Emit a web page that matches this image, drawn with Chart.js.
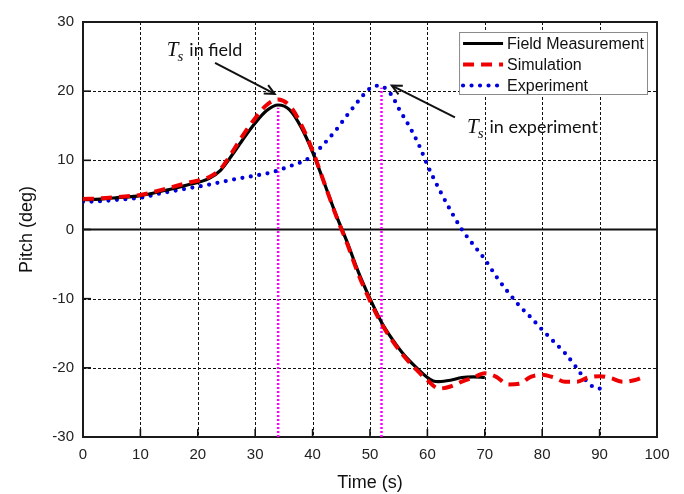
<!DOCTYPE html>
<html>
<head>
<meta charset="utf-8">
<script src="https://cdn.jsdelivr.net/npm/chart.js@4.4.1/dist/chart.umd.min.js"></script>
<style>
  html, body { margin: 0; padding: 0; background: #ffffff; }
  #wrap { width: 684px; height: 494px; }
</style>
</head>
<body>
<div id="wrap"><canvas id="c" width="684" height="494"></canvas></div>
<script>
// Pitch response over time: field record, numerical simulation and model test
const fieldTime  = [0, 3, 6, 10, 14, 18, 22, 24, 26, 28, 30, 32, 34, 36, 38, 40, 42, 44, 46, 48, 50, 52, 54, 56, 58, 60, 61, 62, 64, 66, 68, 70];
const fieldPitch = [4.3, 4.4, 4.6, 4.9, 5.6, 6.4, 7.4, 8.6, 10.8, 13.2, 15.4, 17.2, 18.0, 17.3, 14.8, 11.2, 6.8, 2.3, -1.8, -6.2, -10.0, -13.4, -16.0, -18.2, -19.9, -21.4, -21.9, -22.0, -21.8, -21.4, -21.3, -21.4];

const simTime  = [0, 3, 6, 10, 14, 18, 22, 24, 26, 28, 30, 32, 34, 36, 38, 40, 42, 44, 46, 48, 50, 52, 54, 56, 58, 60, 62, 64, 66, 68, 70, 72, 74, 76, 78, 80, 82, 84, 86, 88, 90, 92, 94, 96, 98];
const simPitch = [4.4, 4.5, 4.7, 5.0, 5.8, 6.7, 7.6, 8.8, 11.2, 13.8, 16.1, 18.0, 18.8, 17.9, 15.2, 11.4, 6.8, 2.2, -2.0, -6.5, -10.3, -13.6, -16.2, -18.4, -20.2, -21.8, -23.0, -22.7, -22.0, -21.4, -20.8, -21.3, -22.4, -22.3, -21.3, -21.0, -21.4, -22.0, -22.0, -21.4, -21.2, -21.5, -22.0, -21.8, -21.2];

const expTime  = [0, 3, 6, 10, 14, 18, 22, 26, 28, 33, 35.5, 39.5, 42, 44, 46, 48, 50, 51.5, 53, 54, 55, 57, 58.7, 60, 62, 64, 66, 68, 70, 72, 74, 76, 78, 80, 82, 84, 86, 87.5, 89, 90.5, 91.5];
const expPitch = [4.0, 4.1, 4.3, 4.6, 5.3, 5.9, 6.5, 7.2, 7.5, 8.3, 9.0, 10.4, 12.4, 14.3, 16.5, 18.6, 20.4, 20.8, 20.2, 19.1, 17.5, 14.7, 11.9, 9.3, 5.9, 2.8, 0.0, -2.2, -4.3, -6.8, -9.0, -11.0, -12.7, -14.5, -16.2, -17.9, -20.0, -21.7, -22.8, -23.0, -23.0];

// Time of peak pitch (T_s) for the field record and for the experiment
const peakTimes  = [34, 52];
const peakPitch  = [17.6, 20.5];

const xTicks = [0, 10, 20, 30, 40, 50, 60, 70, 80, 90, 100];
const yTicks = [-30, -20, -10, 0, 10, 20, 30];

const seriesNames = ['Field Measurement', 'Simulation', 'Experiment'];

const toXY = (xs, ys) => xs.map((x, i) => ({ x: x, y: ys[i] }));

// Callout labels with arrows, anchored in data units
const callouts = [
  { sub: 'in field',      textAt: [14.6, 25.1], from: [23.0, 24.1], to: [33.4, 19.6] },
  { sub: 'in experiment', textAt: [66.9, 14.0], from: [64.8, 16.2], to: [53.8, 20.8] }
];

const frameAndGrid = {
  id: 'frameAndGrid',
  beforeDatasetsDraw(chart) {
    const { ctx, chartArea: a, scales: { x, y } } = chart;
    ctx.save();
    ctx.strokeStyle = '#111';
    ctx.lineWidth = 1;
    ctx.setLineDash([3, 2]);
    xTicks.forEach(v => {
      if (v === xTicks[0] || v === xTicks[xTicks.length - 1]) return;
      const px = Math.round(x.getPixelForValue(v)) + 0.5;
      ctx.beginPath(); ctx.moveTo(px, a.top); ctx.lineTo(px, a.bottom); ctx.stroke();
    });
    yTicks.forEach(v => {
      if (v === yTicks[0] || v === yTicks[yTicks.length - 1] || v === 0) return;
      const py = Math.round(y.getPixelForValue(v)) + 0.5;
      ctx.beginPath(); ctx.moveTo(a.left, py); ctx.lineTo(a.right, py); ctx.stroke();
    });
    ctx.setLineDash([]);
    // zero line
    const y0 = y.getPixelForValue(0);
    ctx.lineWidth = 1.8;
    ctx.beginPath(); ctx.moveTo(a.left, y0); ctx.lineTo(a.right, y0); ctx.stroke();
    // inward tick marks
    ctx.lineWidth = 1.6;
    xTicks.forEach(v => {
      const px = x.getPixelForValue(v);
      ctx.beginPath(); ctx.moveTo(px, a.bottom); ctx.lineTo(px, a.bottom - 8); ctx.stroke();
    });
    yTicks.forEach(v => {
      const py = y.getPixelForValue(v);
      ctx.beginPath(); ctx.moveTo(a.left, py); ctx.lineTo(a.left + 8, py); ctx.stroke();
    });
    // frame
    ctx.lineWidth = 2;
    ctx.strokeStyle = '#1a1a1a';
    ctx.strokeRect(a.left, a.top, a.right - a.left, a.bottom - a.top);
    ctx.restore();
  }
};

function drawArrow(ctx, x1, y1, x2, y2) {
  ctx.beginPath(); ctx.moveTo(x1, y1); ctx.lineTo(x2, y2); ctx.stroke();
  const ang = Math.atan2(y2 - y1, x2 - x1);
  const len = 11, spread = 0.45;
  ctx.beginPath();
  ctx.moveTo(x2 - len * Math.cos(ang - spread), y2 - len * Math.sin(ang - spread));
  ctx.lineTo(x2, y2);
  ctx.lineTo(x2 - len * Math.cos(ang + spread), y2 - len * Math.sin(ang + spread));
  ctx.stroke();
}

const overlay = {
  id: 'overlay',
  afterDatasetsDraw(chart) {
    const { ctx, chartArea: a, scales: { x, y } } = chart;
    ctx.save();
    // callouts
    callouts.forEach(c => {
      const tx = x.getPixelForValue(c.textAt[0]);
      const ty = y.getPixelForValue(c.textAt[1]);
      ctx.fillStyle = '#111';
      ctx.textBaseline = 'alphabetic';
      ctx.textAlign = 'left';
      ctx.font = 'italic 21px "Liberation Serif"';
      ctx.fillText('T', tx, ty);
      const tw = ctx.measureText('T').width;
      ctx.font = 'italic 15px "Liberation Serif"';
      ctx.fillText('s', tx + tw - 1, ty + 5);
      const sw = ctx.measureText('s').width;
      ctx.font = '18px Lato';
      ctx.fillText(c.sub, tx + tw + sw + 5, ty);
      ctx.strokeStyle = '#111';
      ctx.lineWidth = 2;
      drawArrow(ctx, x.getPixelForValue(c.from[0]), y.getPixelForValue(c.from[1]),
                     x.getPixelForValue(c.to[0]),   y.getPixelForValue(c.to[1]));
    });

    // legend box in the upper right of the plot
    const ds = chart.data.datasets.slice(0, 3);
    ctx.font = '16px "Liberation Sans"';
    const textW = Math.max(...ds.map(d => ctx.measureText(d.label).width));
    const sample = 42;
    const boxW = 2 + sample + 4 + textW + 3;
    const rowH = 21;
    const boxH = rowH * 3 - 1;
    const bx = a.right - 10 - boxW;
    const by = a.top + 10;
    ctx.fillStyle = '#ffffff';
    ctx.fillRect(bx, by, boxW, boxH);
    ctx.strokeStyle = '#8a8a8a';
    ctx.lineWidth = 1;
    ctx.strokeRect(bx + 0.5, by + 0.5, boxW, boxH);
    ds.forEach((d, i) => {
      const ry = by + 11.5 + i * rowH;
      ctx.save();
      ctx.strokeStyle = d.borderColor;
      ctx.lineWidth = d.borderWidth;
      ctx.lineCap = d.borderCapStyle || 'butt';
      ctx.setLineDash(d.borderDash || []);
      ctx.beginPath();
      ctx.moveTo(bx + 4, ry);
      ctx.lineTo(bx + 2 + sample, ry);
      ctx.stroke();
      ctx.restore();
      ctx.fillStyle = '#111';
      ctx.textBaseline = 'middle';
      ctx.textAlign = 'left';
      ctx.fillText(d.label, bx + 2 + sample + 4, ry + 1);
    });
    ctx.restore();
  }
};

const markerStyle = {
  borderColor: '#ff00ff',
  borderWidth: 2.5,
  borderDash: [2, 2],
  pointRadius: 0,
  tension: 0,
  order: 4
};

new Chart(document.getElementById('c'), {
  type: 'line',
  data: {
    datasets: [
      {
        label: seriesNames[0],
        data: toXY(fieldTime, fieldPitch),
        borderColor: '#000000',
        borderWidth: 3.2,
        pointRadius: 0,
        cubicInterpolationMode: 'monotone',
        order: 1
      },
      {
        label: seriesNames[1],
        data: toXY(simTime, simPitch),
        borderColor: '#ee0000',
        borderWidth: 4,
        borderDash: [11, 7],
        pointRadius: 0,
        cubicInterpolationMode: 'monotone',
        order: 0
      },
      {
        label: seriesNames[2],
        data: toXY(expTime, expPitch),
        borderColor: '#0000dd',
        borderWidth: 4.2,
        borderDash: [0, 8.5],
        borderCapStyle: 'round',
        pointRadius: 0,
        cubicInterpolationMode: 'monotone',
        order: 2
      },
      Object.assign({ label: 'Ts field', data: [{ x: peakTimes[0], y: -30 }, { x: peakTimes[0], y: peakPitch[0] }] }, markerStyle),
      Object.assign({ label: 'Ts experiment', data: [{ x: peakTimes[1], y: -30 }, { x: peakTimes[1], y: peakPitch[1] }] }, markerStyle)
    ]
  },
  options: {
    responsive: false,
    animation: false,
    layout: { padding: { left: 0, right: 27, top: 22, bottom: 0 } },
    plugins: { legend: { display: false }, tooltip: { enabled: false } },
    scales: {
      x: {
        type: 'linear',
        min: 0, max: 100,
        afterFit(s) { s.height = 57; },
        afterBuildTicks(s) { s.ticks = xTicks.map(v => ({ value: v })); },
        grid: { display: false, drawTicks: false },
        border: { display: false },
        ticks: { padding: 9, color: '#222', font: { family: 'Liberation Sans', size: 15 }, maxRotation: 0 },
        title: { display: true, text: 'Time (s)', color: '#111', font: { family: 'Liberation Sans', size: 18 }, padding: { top: 0, bottom: 0 } }
      },
      y: {
        type: 'linear',
        min: -30, max: 30,
        afterFit(s) { s.width = 83; },
        afterBuildTicks(s) { s.ticks = yTicks.map(v => ({ value: v })); },
        grid: { display: false, drawTicks: false },
        border: { display: false },
        ticks: { padding: 9, color: '#222', font: { family: 'Liberation Sans', size: 15 } },
        title: { display: true, text: 'Pitch (deg)', color: '#111', font: { family: 'Liberation Sans', size: 18 }, padding: { top: 16, bottom: 0 } }
      }
    }
  },
  plugins: [frameAndGrid, overlay]
});
</script>
</body>
</html>
